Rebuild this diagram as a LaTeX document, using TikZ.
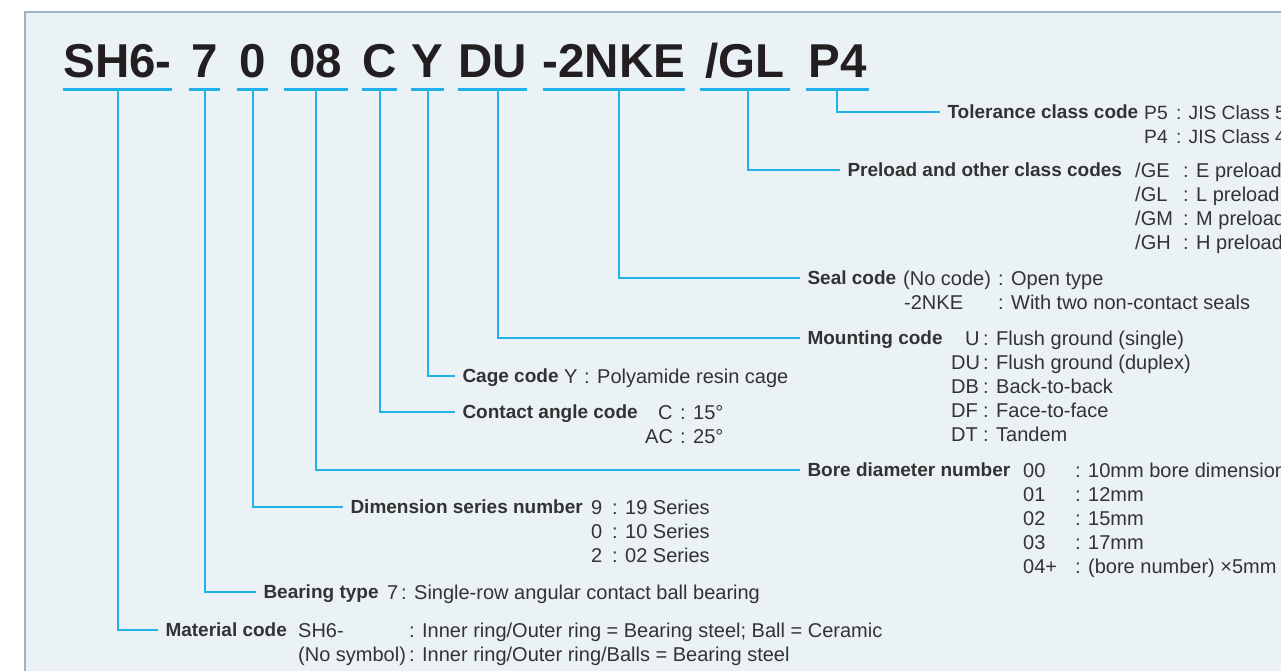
\documentclass[tikz,border=0pt]{standalone}
\usepackage{fontspec}
\setmainfont{Liberation Sans}
\definecolor{bgfill}{HTML}{EAF2F5}
\definecolor{frame}{HTML}{9EB2C5}
\definecolor{lineblue}{HTML}{22B2EA}
\definecolor{hdr}{HTML}{231F20}
\definecolor{txt}{HTML}{333333}
\begin{document}
\begin{tikzpicture}[x=1pt,y=-1pt,
  code/.style={font=\fontsize{47.5}{50}\selectfont\bfseries, text=hdr, inner sep=0pt, anchor=base},
  lab/.style={font=\fontsize{19}{24}\selectfont\bfseries, text=txt, inner sep=0pt, anchor=west, outer xsep=7.5pt, text height=13.6pt, text depth=0pt},
  val/.style={font=\fontsize{20}{24}\selectfont, text=txt, inner sep=0pt, anchor=west, text height=14pt, text depth=0pt},
  valn/.style={val, font=\fontsize{19.2}{24}\selectfont},
  conn/.style={draw=lineblue, line width=2pt},
  uline/.style={draw=lineblue, line width=3.3pt}]
\useasboundingbox (0,0) rectangle (1281,670);
\fill[white] (0,0) rectangle (1281,670);
\draw[fill=bgfill, draw=frame, line width=1.5pt] (25,12) rectangle (1300,690);

% header codes
\node[code, minimum width=109pt] (hSH) at (117.5,77) {SH6-};
\node[code, minimum width=31pt] (hT) at (204.5,77) {7};
\node[code, minimum width=31pt] (hD) at (252.5,77) {0};
\node[code, minimum width=63pt] (hB) at (316,77) {08};
\node[code, minimum width=31pt] (hC) at (379.5,77) {C};
\node[code, minimum width=31pt] (hY) at (427.5,77) {Y};
\node[code, minimum width=69pt] (hM) at (492.5,77) {DU};
\node[code, minimum width=142pt] (hS) at (614,77) {-2NKE};
\node[code, minimum width=90pt] (hP) at (745,77) {/GL};
\node[code, minimum width=63pt] (hTo) at (837.5,77) {P4};

\foreach \n in {hSH,hT,hD,hB,hC,hY,hM,hS,hP,hTo}
  \draw[uline] ([yshift=-12.3pt]\n.base west) -- ([yshift=-12.3pt]\n.base east);

\coordinate (uSH) at ([yshift=-12.3pt]hSH.base);
\coordinate (uT) at ([yshift=-12.3pt]hT.base);
\coordinate (uD) at ([yshift=-12.3pt]hD.base);
\coordinate (uB) at ([yshift=-12.3pt]hB.base);
\coordinate (uC) at ([yshift=-12.3pt]hC.base);
\coordinate (uY) at ([yshift=-12.3pt]hY.base);
\coordinate (uM) at ([xshift=5.5pt,yshift=-12.3pt]hM.base);
\coordinate (uS) at ([xshift=4.5pt,yshift=-12.3pt]hS.base);
\coordinate (uP) at ([xshift=2.5pt,yshift=-12.3pt]hP.base);
\coordinate (uTo) at ([xshift=-0.8pt,yshift=-12.3pt]hTo.base);

% Tolerance
\node[lab] (tol) at (940,112) {Tolerance class code};
\node[valn] (tol1c) at (1144,112) {P5};
\node[valn] (tol1d) at (1176,112) {: JIS Class 5};
\node[valn] (tol2c) at (1144,136) {P4};
\node[valn] (tol2d) at (1176,136) {: JIS Class 4};

% Preload
\node[lab] (pre) at (840,170) {Preload and other class codes};
\node[val] at (1135,170) {/GE};
\node[val] at (1183,170) {: E preload};
\node[val] at (1135,194) {/GL};
\node[val] at (1183,194) {: L preload};
\node[val] at (1135,218) {/GM};
\node[val] at (1183,218) {: M preload};
\node[val] at (1135,242) {/GH};
\node[val] at (1183,242) {: H preload};

% Seal
\node[lab] (seal) at (800,278) {Seal code};
\node[val] at (903,278) {(No code)};
\node[val] at (998,278) {: Open type};
\node[val] at (904,302) {-2NKE};
\node[val] at (998,302) {: With two non-contact seals};

% Mounting
\node[lab] (mnt) at (800,338) {Mounting code};
\node[val] at (965,338) {U};
\node[val] at (983,338) {: Flush ground (single)};
\node[val] at (951,362) {DU};
\node[val] at (983,362) {: Flush ground (duplex)};
\node[val] at (951,386) {DB};
\node[val] at (983,386) {: Back-to-back};
\node[val] at (951,410) {DF};
\node[val] at (983,410) {: Face-to-face};
\node[val] at (951,434) {DT};
\node[val] at (983,434) {: Tandem};

% Cage
\node[lab] (cage) at (455,376) {Cage code};
\node[val] at (564,376) {Y};
\node[val] at (584,376) {: Polyamide resin cage};

% Contact angle
\node[lab] (ang) at (455,412) {Contact angle code};
\node[val] at (658,412) {C};
\node[val] at (680,412) {: 15°};
\node[val] at (645,436) {AC};
\node[val] at (680,436) {: 25°};

% Bore
\node[lab] (bore) at (800,470) {Bore diameter number};
\node[val] at (1023,470) {00};
\node[val] at (1075,470) {: 10mm bore dimension};
\node[val] at (1023,494) {01};
\node[val] at (1075,494) {: 12mm};
\node[val] at (1023,518) {02};
\node[val] at (1075,518) {: 15mm};
\node[val] at (1023,542) {03};
\node[val] at (1075,542) {: 17mm};
\node[val] at (1023,566) {04+};
\node[val] at (1075,566) {: (bore number) ×5mm};

% Dimension series
\node[lab] (dim) at (343,507) {Dimension series number};
\node[val] at (591,507) {9};
\node[val] at (612,507) {: 19 Series};
\node[val] at (591,531) {0};
\node[val] at (612,531) {: 10 Series};
\node[val] at (591,555) {2};
\node[val] at (612,555) {: 02 Series};

% Bearing type
\node[lab] (btype) at (256,592) {Bearing type};
\node[val] at (387,592) {7};
\node[val] at (401,592) {: Single-row angular contact ball bearing};

% Material
\node[lab] (mat) at (158,630) {Material code};
\node[val] at (298,630) {SH6-};
\node[val] at (409,630) {: Inner ring/Outer ring = Bearing steel; Ball = Ceramic};
\node[val] at (298,654) {(No symbol)};
\node[val] at (409,654) {: Inner ring/Outer ring/Balls = Bearing steel};

% connectors
\draw[conn] (uTo) |- (tol.west);
\draw[conn] (uP) |- (pre.west);
\draw[conn] (uS) |- (seal.west);
\draw[conn] (uM) |- (mnt.west);
\draw[conn] (uY) |- (cage.west);
\draw[conn] (uC) |- (ang.west);
\draw[conn] (uB) |- (bore.west);
\draw[conn] (uD) |- (dim.west);
\draw[conn] (uT) |- (btype.west);
\draw[conn] (uSH) |- (mat.west);
\end{tikzpicture}
\end{document}
